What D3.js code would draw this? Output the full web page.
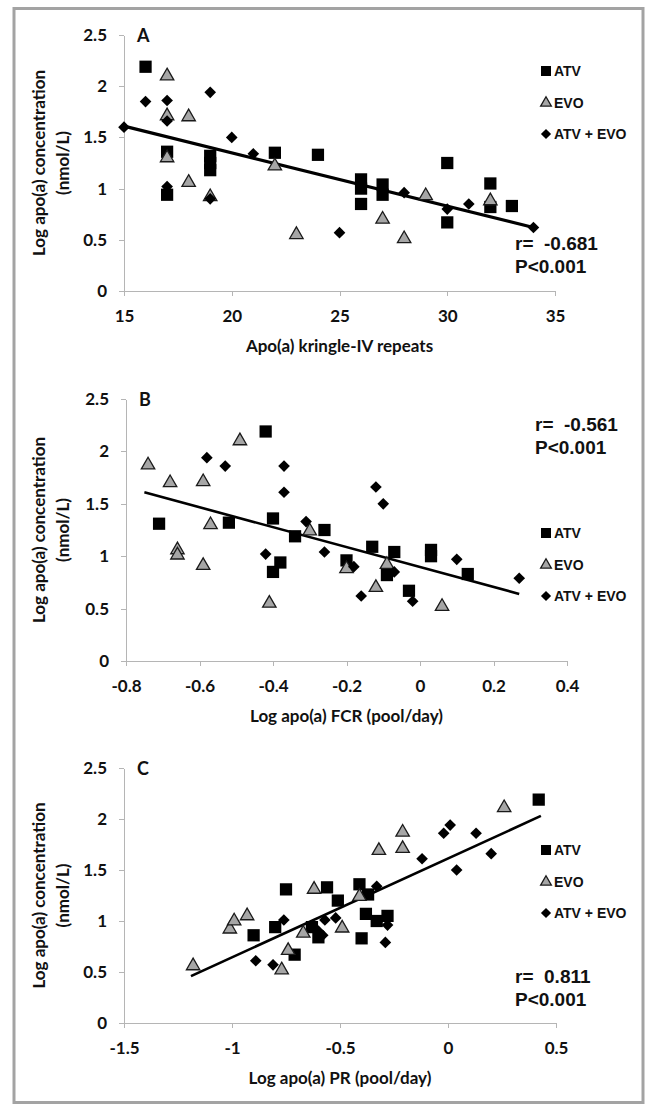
<!DOCTYPE html>
<html>
<head>
<meta charset="utf-8">
<title>Apo(a) correlations</title>
<style>
body { margin:0; background:#fff; }
svg { display:block; }
.axis path, .axis line { stroke:#b5b5b5; shape-rendering:crispEdges; }
.axis text { font:700 17px Lato, "Liberation Sans", sans-serif; fill:#111; }
.title { font:700 17px Lato, "Liberation Sans", sans-serif; fill:#111; }
.letter { font:700 18px Lato, "Liberation Sans", sans-serif; fill:#111; }
.legend text { font:700 14px "Liberation Sans", Arial, sans-serif; fill:#111; }
.stat { font:700 19px "Liberation Sans", Arial, sans-serif; fill:#111; white-space:pre; }
</style>
</head>
<body>
<svg id="chart" width="647" height="1104"></svg>
<script src="https://d3js.org/d3.v7.min.js"></script>
<script>

// ---- data ----
const seriesNames = ["ATV", "EVO", "ATV + EVO"];
const yTicks = [0, 0.5, 1, 1.5, 2, 2.5];

// A: kringle-IV repeats vs log apo(a)
const xTicksA = [15, 20, 25, 30, 35];
const atvA = [[16,2.19],[17,1.36],[17,0.94],[19,1.32],[19,1.25],[19,1.18],[22,1.35],[24,1.33],[26,1.09],[26,1.0],[26,0.85],[27,1.04],[27,0.94],[30,1.25],[30,0.67],[32,1.05],[32,0.82],[33,0.83]];
const evoA = [[17,2.11],[17,1.72],[18,1.71],[17,1.31],[22,1.23],[18,1.07],[19,0.93],[23,0.56],[27,0.71],[28,0.52],[29,0.94],[32,0.89]];
const comboA = [[15,1.6],[16,1.85],[17,1.86],[17,1.66],[19,1.94],[20,1.5],[21,1.34],[17,1.02],[19,0.9],[25,0.57],[28,0.96],[30,0.8],[31,0.85],[34,0.62]];
const fitA = [[15,1.61],[34,0.62]];
const statA = ["r=  -0.681", "P<0.001"];

// B: log FCR vs log apo(a)
const xTicksB = [-0.8, -0.6, -0.4, -0.2, 0, 0.2, 0.4];
const atvB = [[-0.71,1.31],[-0.52,1.32],[-0.42,2.19],[-0.4,1.36],[-0.34,1.19],[-0.26,1.25],[-0.38,0.94],[-0.4,0.85],[-0.2,0.96],[-0.13,1.09],[-0.07,1.04],[-0.09,0.82],[-0.03,0.67],[0.03,1.06],[0.03,1.0],[0.13,0.83]];
const evoB = [[-0.74,1.88],[-0.68,1.71],[-0.59,1.72],[-0.49,2.11],[-0.57,1.31],[-0.66,1.07],[-0.66,1.02],[-0.59,0.92],[-0.41,0.56],[-0.3,1.25],[-0.2,0.89],[-0.09,0.93],[-0.12,0.71],[0.06,0.53]];
const comboB = [[-0.58,1.94],[-0.53,1.86],[-0.37,1.86],[-0.37,1.61],[-0.31,1.33],[-0.42,1.02],[-0.26,1.04],[-0.12,1.66],[-0.1,1.5],[-0.18,0.9],[-0.07,0.85],[-0.16,0.62],[-0.02,0.57],[0.1,0.97],[0.27,0.79]];
const fitB = [[-0.75,1.61],[0.27,0.64]];
const statB = ["r=  -0.561", "P<0.001"];

// C: log PR vs log apo(a)
const xTicksC = [-1.5, -1, -0.5, 0, 0.5];
const atvC = [[0.42,2.19],[-0.41,1.36],[-0.37,1.26],[-0.75,1.31],[-0.56,1.33],[-0.51,1.2],[-0.9,0.86],[-0.8,0.94],[-0.71,0.67],[-0.63,0.94],[-0.6,0.84],[-0.4,0.83],[-0.38,1.07],[-0.33,1.0],[-0.28,1.05]];
const evoC = [[0.26,2.12],[-0.21,1.88],[-0.21,1.72],[-0.32,1.7],[-0.62,1.32],[-0.41,1.25],[-1.18,0.57],[-1.01,0.93],[-0.99,1.01],[-0.93,1.06],[-0.77,0.53],[-0.74,0.72],[-0.67,0.89],[-0.49,0.94]];
const comboC = [[0.01,1.94],[-0.02,1.86],[0.13,1.86],[-0.12,1.61],[0.2,1.66],[0.04,1.5],[-0.33,1.34],[-0.89,0.61],[-0.81,0.57],[-0.76,1.01],[-0.58,0.86],[-0.57,1.01],[-0.52,1.03],[-0.29,0.79],[-0.28,0.96],[-0.6,0.9]];
const fitC = [[-1.19,0.46],[0.43,2.03]];
const statC = ["r=  0.811", "P<0.001"];

const yTitle = ["Log apo(a) concentration", "(nmol/L)"];

// ---- layout ----
let panels = [
  { letter:"A", xTitle:"Apo(a) kringle-IV repeats", xTicks:xTicksA, data:[atvA, evoA, comboA], fit:fitA, stat:statA,
    x0:124, x1:555, yTop:35, yBot:291, legendY:71, statX:515, statY:250, fitW:3.2 },
  { letter:"B", xTitle:"Log apo(a) FCR (pool/day)", xTicks:xTicksB, data:[atvB, evoB, comboB], fit:fitB, stat:statB,
    x0:126, x1:567, yTop:399, yBot:661, legendY:533, statX:535, statY:431, fitW:2.6 },
  { letter:"C", xTitle:"Log apo(a) PR (pool/day)", xTicks:xTicksC, data:[atvC, evoC, comboC], fit:fitC, stat:statC,
    x0:124, x1:556, yTop:768, yBot:1023, legendY:850, statX:515, statY:983, fitW:2.6 }
];

let svg = d3.select("#chart");

// outer frame
svg.append("rect")
    .attr("x", 14).attr("y", 8.5)
    .attr("width", 629).attr("height", 1094)
    .attr("fill", "none")
    .attr("stroke", "#a3a3a3")
    .attr("stroke-width", 3);

let symSquare = d3.symbol().type(d3.symbolSquare).size(150),
    symTri = d3.symbol().type(d3.symbolTriangle).size(78),
    symDiamond = d3.symbol().type(d3.symbolSquare).size(68);

let legSquare = d3.symbol().type(d3.symbolSquare).size(100),
    legTri = d3.symbol().type(d3.symbolTriangle).size(50),
    legDiamond = d3.symbol().type(d3.symbolSquare).size(52);

function drawMarks(g, pts, kind, x, y, small) {
  let sel = g.append("g").selectAll("path").data(pts).enter().append("path");
  if (kind == 0) {
    sel.attr("d", small ? legSquare : symSquare)
       .attr("transform", d => "translate(" + x(d) + "," + y(d) + ")")
       .attr("fill", "#000");
  } else if (kind == 1) {
    sel.attr("d", small ? legTri : symTri)
       .attr("transform", d => "translate(" + x(d) + "," + (y(d) + (small ? 0.5 : 1)) + ")")
       .attr("fill", "#a6a6a6")
       .attr("stroke", "#1a1a1a")
       .attr("stroke-width", 1.3)
       .attr("stroke-linejoin", "miter");
  } else {
    sel.attr("d", small ? legDiamond : symDiamond)
       .attr("transform", d => "translate(" + x(d) + "," + y(d) + ") rotate(45)")
       .attr("fill", "#000");
  }
}

panels.forEach(function(p) {
  let x = d3.scaleLinear().domain(d3.extent(p.xTicks)).range([p.x0, p.x1]),
      y = d3.scaleLinear().domain([0, 2.5]).range([p.yBot, p.yTop]);

  let g = svg.append("g");

  g.append("g")
      .attr("class", "axis")
      .attr("transform", "translate(" + p.x0 + ",0)")
      .call(d3.axisLeft(y).tickValues(yTicks).tickSize(5).tickSizeOuter(0).tickPadding(12)
            .tickFormat(d => String(d)));

  g.append("g")
      .attr("class", "axis")
      .attr("transform", "translate(0," + p.yBot + ")")
      .call(d3.axisBottom(x).tickValues(p.xTicks).tickSize(5).tickSizeOuter(0).tickPadding(14)
            .tickFormat(d => String(d)));

  g.selectAll(".axis .domain").attr("stroke", "#b5b5b5");

  // panel letter
  g.append("text")
      .attr("class", "letter")
      .attr("x", p.x0 + 13)
      .attr("y", p.yTop + 7)
      .text(p.letter);

  // axis titles
  g.append("text")
      .attr("class", "title")
      .attr("text-anchor", "middle")
      .attr("x", (p.x0 + p.x1) / 2)
      .attr("y", p.yBot + 61)
      .text(p.xTitle);

  yTitle.forEach(function(t, i) {
    g.append("text")
        .attr("class", "title")
        .attr("text-anchor", "middle")
        .attr("transform", "translate(" + (45 + i * 24) + "," + ((p.yTop + p.yBot) / 2) + ") rotate(-90)")
        .text(t);
  });

  // regression line
  g.append("path")
      .datum(p.fit)
      .attr("fill", "none")
      .attr("stroke", "#000")
      .attr("stroke-width", p.fitW)
      .attr("d", d3.line().x(d => x(d[0])).y(d => y(d[1])));

  // points: squares, triangles, diamonds
  p.data.forEach(function(pts, k) {
    drawMarks(g, pts, k, d => x(d[0]), d => y(d[1]), false);
  });

  // legend
  let leg = g.append("g").attr("class", "legend");
  seriesNames.forEach(function(name, k) {
    let ly = p.legendY + k * 31.5;
    drawMarks(leg, [[0, 0]], k, () => 546, () => ly, true);
    leg.append("text")
        .attr("x", 554)
        .attr("y", ly + 5)
        .text(name);
  });

  // correlation
  p.stat.forEach(function(s, i) {
    g.append("text")
        .attr("class", "stat")
        .attr("x", p.statX)
        .attr("y", p.statY + i * 23)
        .text(s);
  });
});

</script>
</body>
</html>
